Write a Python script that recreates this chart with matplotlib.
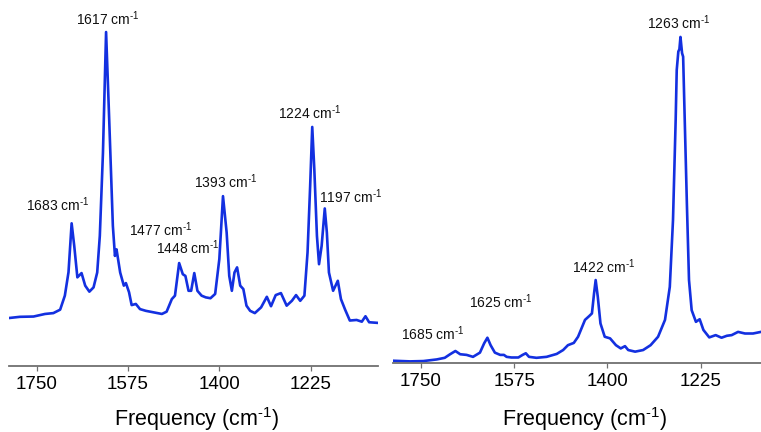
import numpy as np
import matplotlib
matplotlib.use("Agg")
import matplotlib.pyplot as plt

plt.rcParams['font.family'] = ['Liberation Sans', 'DejaVu Sans']
plt.rcParams['mathtext.fontset'] = 'custom'
plt.rcParams['mathtext.rm'] = 'Liberation Sans'
plt.rcParams['mathtext.it'] = 'Liberation Sans:italic'
plt.rcParams['mathtext.default'] = 'regular'

# left spectrum (frequency in cm-1, intensity normalised to strongest band)
freq_a = [1802, 1782, 1756, 1734, 1718, 1705, 1696, 1689, 1683, 1678, 1672, 1664,
          1657, 1649, 1641, 1634, 1629, 1623, 1617, 1611, 1604, 1600, 1597, 1590,
          1583, 1579, 1573, 1568, 1560, 1552, 1541, 1527, 1510, 1501, 1491, 1485,
          1477, 1470, 1465, 1459, 1454, 1448, 1442, 1434, 1426, 1417, 1408, 1400,
          1393, 1386, 1381, 1376, 1371, 1366, 1360, 1354, 1348, 1341, 1332, 1320,
          1309, 1301, 1292, 1282, 1271, 1261, 1253, 1245, 1237, 1231, 1226, 1222,
          1218, 1213, 1209, 1204, 1198, 1194, 1190, 1182, 1173, 1167, 1159, 1150,
          1137, 1127, 1120, 1113, 1098]
int_a = [0.0, 0.004, 0.005, 0.014, 0.017, 0.029, 0.078, 0.160, 0.331, 0.252, 0.142, 0.157,
         0.113, 0.092, 0.107, 0.159, 0.287, 0.577, 1.0, 0.693, 0.322, 0.217, 0.240, 0.159,
         0.113, 0.122, 0.090, 0.045, 0.049, 0.031, 0.025, 0.020, 0.014, 0.022, 0.066, 0.078,
         0.192, 0.153, 0.147, 0.095, 0.095, 0.157, 0.095, 0.078, 0.072, 0.069, 0.084, 0.206,
         0.426, 0.299, 0.147, 0.095, 0.159, 0.177, 0.113, 0.101, 0.043, 0.025, 0.017, 0.037,
         0.074, 0.041, 0.080, 0.087, 0.043, 0.060, 0.080, 0.060, 0.078, 0.229, 0.461, 0.668,
         0.519, 0.287, 0.188, 0.252, 0.383, 0.299, 0.159, 0.095, 0.130, 0.066, 0.029, -0.009,
         -0.007, -0.013, 0.006, -0.015, -0.017]

# right spectrum
freq_b = [1802, 1770, 1745, 1720, 1705, 1695, 1685, 1676, 1664, 1652, 1639, 1631,
          1625, 1619, 1611, 1601, 1594, 1589, 1580, 1567, 1559, 1553, 1547, 1533,
          1514, 1495, 1483, 1474, 1463, 1455, 1442, 1434, 1429, 1425, 1422, 1418,
          1413, 1405, 1395, 1384, 1375, 1367, 1361, 1348, 1333, 1319, 1305, 1292,
          1283, 1277, 1272, 1270, 1267, 1265, 1263, 1260, 1258, 1255, 1251, 1247,
          1242, 1234, 1227, 1220, 1209, 1197, 1186, 1176, 1167, 1155, 1142, 1127, 1112]
int_b = [0.001, -0.001, 0.0, 0.005, 0.010, 0.021, 0.031, 0.021, 0.019, 0.013, 0.026, 0.055,
         0.072, 0.049, 0.026, 0.019, 0.019, 0.013, 0.011, 0.011, 0.019, 0.024, 0.013, 0.010,
         0.013, 0.022, 0.034, 0.049, 0.056, 0.075, 0.127, 0.139, 0.147, 0.209, 0.250, 0.198,
         0.116, 0.075, 0.070, 0.049, 0.039, 0.046, 0.034, 0.029, 0.034, 0.049, 0.075, 0.127,
         0.229, 0.435, 0.744, 0.898, 0.955, 0.962, 1.0, 0.950, 0.939, 0.744, 0.487, 0.250,
         0.157, 0.121, 0.129, 0.096, 0.073, 0.080, 0.072, 0.078, 0.080, 0.090, 0.085, 0.085, 0.090]

ticks = [1750, 1575, 1400, 1225]

labels_a = ['1617', '1683', '1393', '1224', '1197', '1477', '1448']
labels_b = ['1263', '1422', '1625', '1685']

# label anchor points (freq, intensity) for each panel
pos_a = [(1613, 1.024), (1709, 0.373), (1387, 0.453), (1226, 0.696),
         (1149, 0.403), (1512, 0.287), (1461, 0.225)]
pos_b = [(1266, 1.024), (1406, 0.273), (1600, 0.165), (1727, 0.065)]

unit = r' cm$^{\text{-}1}$'

blue = '#1330e0'
W, H = 761, 432
fig = plt.figure(figsize=(W / 100, H / 100), dpi=100)
ax1 = fig.add_axes([9 / W, (H - 366) / H, 369 / W, 366 / H])
ax2 = fig.add_axes([393 / W, (H - 363) / H, 368 / W, 363 / H])

setups = [
    (ax1, freq_a, int_a, labels_a, pos_a, (1803, 1096), (-0.168, 1.112), 0.508, -0.106),
    (ax2, freq_b, int_b, labels_b, pos_b, (1802, 1112), (-0.006, 1.114), 0.52, -0.115),
]
for ax, f, y, labs, pos, xl, yl, lx, ly in setups:
    ax.plot(f, y, color=blue, lw=1.9, solid_joinstyle='round')
    ax.set_xlim(*xl)
    ax.set_ylim(*yl)
    ax.set_xticks(ticks)
    ax.set_yticks([])
    for s in ['top', 'right', 'left']:
        ax.spines[s].set_visible(False)
    ax.spines['bottom'].set_color('#707070')
    ax.spines['bottom'].set_linewidth(1.3)
    ax.tick_params(axis='x', direction='out', length=3.6, width=0.9,
                   color='#707070', labelsize=13.5, pad=3.5)
    ax.set_xlabel('Frequency (cm$^{\\text{-}1}$)', fontsize=15.5)
    ax.xaxis.set_label_coords(lx, ly)
    ax.patch.set_alpha(0)
    for t, (px, py) in zip(labs, pos):
        ax.text(px, py, t + unit, fontsize=10, ha='center',
                va='baseline', color='#111111')

fig.savefig('out.png', dpi=100)
